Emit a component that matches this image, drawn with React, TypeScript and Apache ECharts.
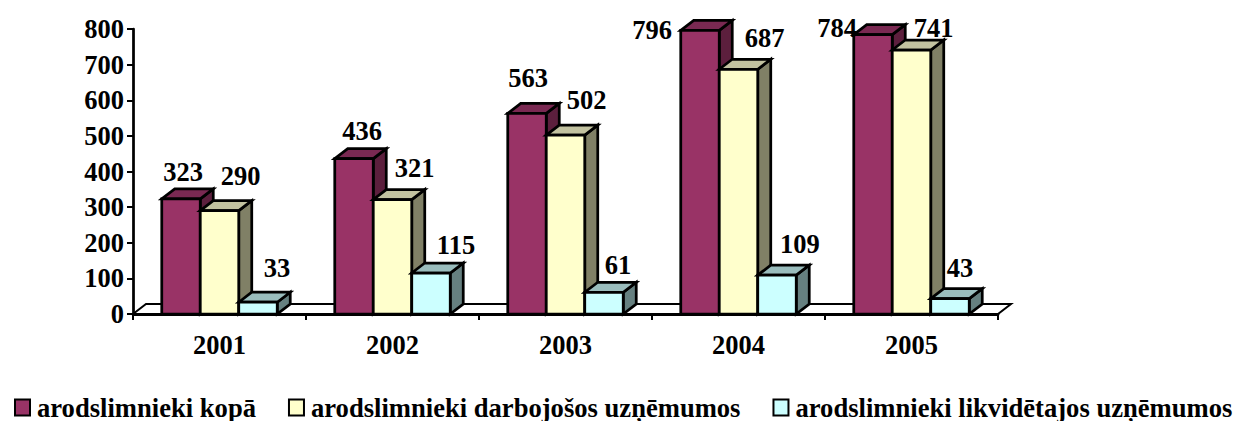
import React, { useEffect, useRef } from "react";
import * as echarts from "echarts";

const years = ["2001", "2002", "2003", "2004", "2005"];
const seriesNames = [
  "arodslimnieki kopā",
  "arodslimnieki darbojošos uzņēmumos",
  "arodslimnieki likvidētajos uzņēmumos",
];
const totalValues = [323, 436, 563, 796, 784];
const activeValues = [290, 321, 502, 687, 741];
const closedValues = [33, 115, 61, 109, 43];

const frontColors = ["#993366", "#FFFFCC", "#CCFFFF"];
const topColors = ["#7A2952", "#C2C2A0", "#9ABDBD"];
const sideColors = ["#5C1F3D", "#808066", "#668080"];

// label offset from the centre of each bar's top edge, per series then per year
const labelOffsets = [
  [[2, -27], [8, -28], [1, -35], [-48, 0], [-36, -7]],
  [[21, -35], [22, -32], [21, -35], [26, -31], [22, -22]],
  [[19, -34], [25, -28], [14, -27], [23, -31], [10, -31]],
];

const FONT = "Liberation Serif";
const DEPTH_X = 13;
const DEPTH_Y = 10;
const BAR_RATIO = 0.2225;

function barRenderer(seriesIndex: number) {
  return (params: any, api: any) => {
    const cat = api.value(0);
    const val = api.value(1);
    const [cx, top] = api.coord([cat, val]);
    const [, base] = api.coord([cat, 0]);
    const band = api.size([1, 0])[0];
    const w = band * BAR_RATIO;
    const center = cx + (seriesIndex - 1) * w;
    const l = center - w / 2;
    const r = center + w / 2;
    const stroke = { stroke: "#000", lineWidth: 2.75, lineJoin: "miter" };
    const [ox, oy] = labelOffsets[seriesIndex][params.dataIndex];
    return {
      type: "group",
      children: [
        {
          type: "polygon",
          shape: { points: [[r, top], [r + DEPTH_X, top - DEPTH_Y], [r + DEPTH_X, base - DEPTH_Y], [r, base]] },
          style: { fill: sideColors[seriesIndex], ...stroke },
        },
        {
          type: "polygon",
          shape: { points: [[l, top], [l + DEPTH_X, top - DEPTH_Y], [r + DEPTH_X, top - DEPTH_Y], [r, top]] },
          style: { fill: topColors[seriesIndex], ...stroke },
        },
        {
          type: "rect",
          shape: { x: l, y: top, width: w, height: base - top },
          style: { fill: frontColors[seriesIndex], ...stroke },
        },
        {
          type: "text",
          z2: 100,
          style: {
            x: center + ox,
            y: top + oy,
            text: String(val),
            fill: "#000",
            font: `bold 26.5px "${FONT}"`,
            textAlign: "center",
            textVerticalAlign: "middle",
          },
        },
      ],
    };
  };
}

function floorRenderer(params: any, api: any) {
  const g = params.coordSys;
  const [x0, y0] = [g.x, g.y + g.height];
  const x1 = g.x + g.width;
  return {
    type: "polygon",
    shape: { points: [[x0, y0], [x0 + DEPTH_X, y0 - DEPTH_Y], [x1 + DEPTH_X, y0 - DEPTH_Y], [x1, y0]] },
    style: { fill: "#fff", stroke: "#000", lineWidth: 2 },
  };
}

const valueSets = [totalValues, activeValues, closedValues];

export default function App() {
  const ref = useRef<HTMLDivElement>(null);
  useEffect(() => {
    const chart = echarts.init(ref.current!, undefined, { renderer: "svg" });
    chart.setOption({
      animation: false,
      backgroundColor: "#fff",
      grid: { left: 133, top: 29, width: 865, height: 285, containLabel: false },
      legend: {
        left: 14,
        top: 394,
        itemWidth: 15,
        itemHeight: 16,
        itemGap: 32,
        padding: 0,
        icon: "rect",
        textStyle: { fontFamily: FONT, fontWeight: "bold", fontSize: 26.6, lineHeight: 22, color: "#000", padding: [0, 0, 0, 2] },
        data: seriesNames,
      },
      xAxis: {
        type: "category",
        data: years,
        axisLine: { lineStyle: { color: "#000", width: 2.75 } },
        axisTick: { show: true, length: 6, alignWithLabel: false, lineStyle: { color: "#000", width: 2 } },
        axisLabel: { fontFamily: FONT, fontWeight: "bold", fontSize: 26.5, color: "#000", margin: 17 },
      },
      yAxis: {
        type: "value",
        min: 0,
        max: 800,
        interval: 100,
        splitLine: { show: false },
        axisLine: { show: true, lineStyle: { color: "#000", width: 2.75 } },
        axisTick: { show: true, length: 6, lineStyle: { color: "#000", width: 2 } },
        axisLabel: { fontFamily: FONT, fontWeight: "bold", fontSize: 26.5, color: "#000", margin: 9 },
      },
      series: [
        {
          type: "custom",
          name: "floor",
          renderItem: floorRenderer,
          data: [[0, 0]],
          clip: false,
          silent: true,
          z: 1,
        },
        ...seriesNames.map((name, i) => ({
          type: "custom",
          name,
          renderItem: barRenderer(i),
          data: valueSets[i].map((v, c) => [c, v]),
          encode: { x: 0, y: 1 },
          clip: false,
          z: 2 + i,
          itemStyle: { color: frontColors[i], borderColor: "#000", borderWidth: 2.75 },
        })),
      ],
    });
    return () => chart.dispose();
  }, []);
  return <div ref={ref} style={{ position: "fixed", left: 0, top: 0, width: 1236, height: 421 }} />;
}
